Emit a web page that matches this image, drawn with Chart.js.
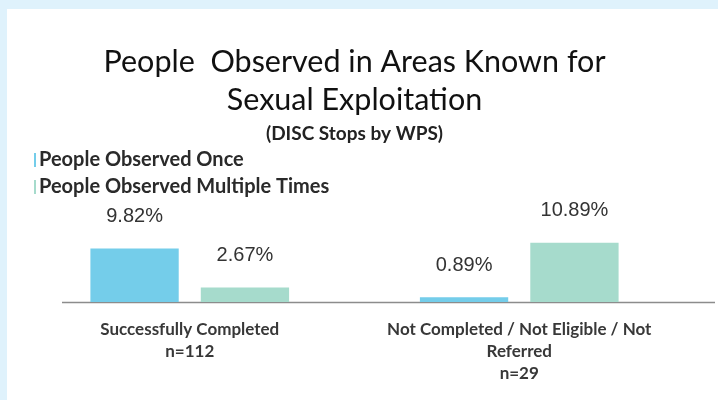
<!DOCTYPE html>
<html>
<head>
<meta charset="utf-8">
<script src="https://cdn.jsdelivr.net/npm/chart.js@4.4.1/dist/chart.umd.min.js"></script>
<style>
  html, body { margin: 0; padding: 0; background: #dff2fc; }
  #panel { position: absolute; left: 7px; top: 9px; width: 711px; height: 391px; background: #fff; }
</style>
</head>
<body>
<div id="panel"><canvas id="myChart" width="711" height="391"></canvas></div>
<script>
var categories = [
  ["Successfully Completed", "n=112"],
  ["Not Completed / Not Eligible / Not", "Referred", "n=29"],
];
var observedOnce = [9.82, 0.89];
var observedMultiple = [2.67, 10.89];
var seriesNames = ["People Observed Once", "People Observed Multiple Times"];
var seriesColors = ["#74cdea", "#a6dbcc"];

// bar value labels above each bar
var valueLabels = {
  id: "valueLabels",
  afterDatasetsDraw: function (chart) {
    var ctx = chart.ctx;
    ctx.save();
    ctx.font = "20px 'Liberation Sans', Arial, sans-serif";
    ctx.fillStyle = "#333";
    ctx.textAlign = "center";
    ctx.textBaseline = "middle";
    chart.data.datasets.forEach(function (ds, i) {
      chart.getDatasetMeta(i).data.forEach(function (bar, j) {
        ctx.fillText(ds.data[j].toFixed(2) + "%", bar.x, bar.y - 32);
      });
    });
    ctx.restore();
  },
};

// baseline under the bars
var baseline = {
  id: "baseline",
  beforeDatasetsDraw: function (chart) {
    var ctx = chart.ctx;
    var y = chart.scales.y.getPixelForValue(0) + 0.5;
    ctx.save();
    ctx.strokeStyle = "#8c8c8c";
    ctx.lineWidth = 1.5;
    ctx.beginPath();
    ctx.moveTo(chart.chartArea.left + 37, y);
    ctx.lineTo(chart.chartArea.right + 31, y);
    ctx.stroke();
    ctx.restore();
  },
};

// stacked legend at the left
var stackedLegend = {
  id: "stackedLegend",
  afterDraw: function (chart) {
    var ctx = chart.ctx;
    ctx.save();
    ctx.font = "bold 20px Lato, sans-serif";
    ctx.textBaseline = "middle";
    chart.data.datasets.forEach(function (ds, i) {
      var y = 151 + i * 27;
      ctx.fillStyle = ds.backgroundColor;
      ctx.fillRect(27, y - 7, 2, 14);
      ctx.fillStyle = "#2a2a2a";
      ctx.fillText(ds.label, 32, y);
    });
    ctx.restore();
  },
};

var ctx = document.getElementById("myChart").getContext("2d");
var myChart = new Chart(ctx, {
  type: "bar",
  data: {
    labels: categories,
    datasets: [
      {
        label: seriesNames[0],
        data: observedOnce,
        backgroundColor: seriesColors[0],
      },
      {
        label: seriesNames[1],
        data: observedMultiple,
        backgroundColor: seriesColors[1],
      },
    ],
  },
  options: {
    responsive: false,
    animation: false,
    layout: { padding: { left: 18, right: 34, bottom: 0 } },
    categoryPercentage: 0.67,
    barPercentage: 0.8,
    plugins: {
      legend: { display: false },
      tooltip: { enabled: false },
      title: {
        display: true,
        text: ["People  Observed in Areas Known for", "Sexual Exploitation"],
        color: "#111",
        font: { family: "Lato, sans-serif", size: 30.5, weight: "normal", lineHeight: 1.246 },
        padding: { top: 34, bottom: 2 },
      },
      subtitle: {
        display: true,
        text: "(DISC Stops by WPS)",
        color: "#222",
        font: { family: "Lato, sans-serif", size: 19, weight: "bold", lineHeight: 1.316 },
        padding: { top: 0, bottom: 47 },
      },
    },
    scales: {
      x: {
        grid: { display: false },
        border: { display: false },
        afterFit: function (scale) {
          scale.height = 98;
        },
        ticks: {
          color: "#383838",
          padding: 8,
          maxRotation: 0,
          font: { family: "Lato, sans-serif", size: 17, weight: "bold", lineHeight: 1.3 },
        },
      },
      y: {
        display: false,
        min: 0,
        max: 20,
      },
    },
  },
  plugins: [valueLabels, baseline, stackedLegend],
});
</script>
</body>
</html>
